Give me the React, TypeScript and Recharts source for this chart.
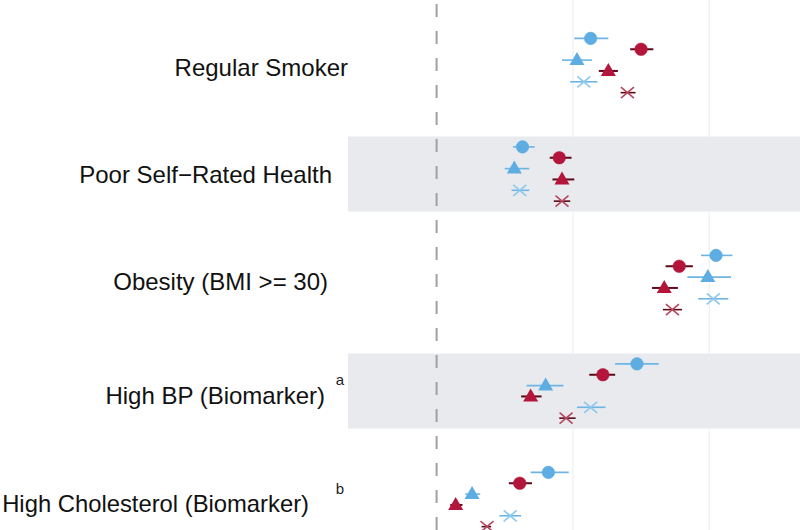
import React from "react";
import {
  ScatterChart,
  Scatter,
  XAxis,
  YAxis,
  ErrorBar,
  ReferenceArea,
  ReferenceLine,
} from "recharts";

// ---- data ----
const categories = [
  "Regular Smoker",
  "Poor Self\u2212Rated Health",
  "Obesity (BMI >= 30)",
  "High BP (Biomarker)",
  "High Cholesterol (Biomarker)",
];
const footnotes = ["", "", "", "a", "b"];

const blueCircle = [1.13, 0.63, 2.05, 1.47, 0.82];
const blueCircleLo = [1.01, 0.56, 1.94, 1.31, 0.69];
const blueCircleHi = [1.26, 0.72, 2.17, 1.63, 0.97];

const redCircle = [1.5, 0.9, 1.78, 1.22, 0.61];
const redCircleLo = [1.42, 0.83, 1.68, 1.12, 0.53];
const redCircleHi = [1.59, 0.99, 1.88, 1.31, 0.7];

const blueTri = [1.03, 0.57, 1.99, 0.8, 0.26];
const blueTriLo = [0.92, 0.5, 1.84, 0.66, 0.21];
const blueTriHi = [1.14, 0.68, 2.16, 0.93, 0.32];

const redTri = [1.26, 0.92, 1.67, 0.69, 0.14];
const redTriLo = [1.19, 0.85, 1.58, 0.62, 0.1];
const redTriHi = [1.33, 1.01, 1.77, 0.77, 0.19];

const blueX = [1.08, 0.61, 2.03, 1.13, 0.54];
const blueXLo = [0.98, 0.55, 1.92, 1.03, 0.46];
const blueXHi = [1.18, 0.68, 2.14, 1.24, 0.62];

const redX = [1.4, 0.92, 1.73, 0.95, 0.37];
const redXLo = [1.35, 0.86, 1.66, 0.9, 0.33];
const redXHi = [1.46, 0.98, 1.8, 1.02, 0.4];

const bandCategories = [2, 4];
const gridTicks = [1, 2];

// ---- layout / style ----
const BLUE = "#5DADE2";
const BLUE_BAR = "#6DB5E3";
const BLUE_X = "#8CC8EC";
const RED = "#B3163A";
const RED_BAR = "#5E0818";
const RED_X = "#B5475F";

const labelLayout = [
  { end: 348, dy: 10, size: 24 },
  { end: 332, dy: 9, size: 24 },
  { end: 328, dy: 7.5, size: 24 },
  { end: 325, dy: 12.5, size: 24 },
  { end: 309, dy: 12, size: 23.8 },
];

function build(vals: number[], lo: number[], hi: number[], offset: number) {
  return categories.map((c, i) => ({
    name: c,
    x: vals[i],
    y: i + 1 + offset,
    err: [vals[i] - lo[i], hi[i] - vals[i]],
  }));
}

const CircleShape = (color: string) => (p: any) => (
  <circle cx={p.cx} cy={p.cy} r={6.3} fill={color} stroke={color} strokeWidth={0.5} />
);
const TriShape = (color: string) => (p: any) => (
  <polygon
    points={`${p.cx},${p.cy - 8} ${p.cx - 7.5},${p.cy + 5} ${p.cx + 7.5},${p.cy + 5}`}
    fill={color}
  />
);
const XShape = (color: string) => (p: any) => (
  <g stroke={color} strokeWidth={1.6}>
    <line x1={p.cx - 6.5} y1={p.cy - 5.5} x2={p.cx + 6.5} y2={p.cy + 5.5} />
    <line x1={p.cx - 6.5} y1={p.cy + 5.5} x2={p.cx + 6.5} y2={p.cy - 5.5} />
  </g>
);

const LabelTick = (props: any) => {
  const { y, payload } = props;
  const i = Math.round(payload.value) - 1;
  if (i < 0 || i >= categories.length) return null;
  const l = labelLayout[i];
  return (
    <g>
      <text
        x={l.end}
        y={y + l.dy}
        textAnchor="end"
        fontSize={l.size}
        fill="#111"
        fontFamily="'Liberation Sans', Arial, sans-serif"
      >
        {categories[i]}
      </text>
      {footnotes[i] ? (
        <text
          x={340}
          y={y - 6}
          textAnchor="middle"
          fontSize={15}
          fill="#222"
          fontFamily="'Liberation Sans', Arial, sans-serif"
        >
          {footnotes[i]}
        </text>
      ) : null}
    </g>
  );
};

const series = [
  { data: build(blueCircle, blueCircleLo, blueCircleHi, -0.25), shape: CircleShape(BLUE), bar: BLUE_BAR, bw: 1.6 },
  { data: build(redCircle, redCircleLo, redCircleHi, -0.15), shape: CircleShape(RED), bar: RED_BAR, bw: 2 },
  { data: build(blueTri, blueTriLo, blueTriHi, -0.05), shape: TriShape(BLUE), bar: BLUE_BAR, bw: 1.6 },
  { data: build(redTri, redTriLo, redTriHi, 0.05), shape: TriShape(RED), bar: RED_BAR, bw: 2 },
  { data: build(blueX, blueXLo, blueXHi, 0.15), shape: XShape(BLUE_X), bar: BLUE_BAR, bw: 1.6 },
  { data: build(redX, redXLo, redXHi, 0.25), shape: XShape(RED_X), bar: RED_BAR, bw: 1.6 },
];

export default function App() {
  return (
    <div style={{ position: "absolute", left: 0, top: 0, width: 800, height: 530, background: "#fff" }}>
      <ScatterChart width={800} height={530} margin={{ top: 0, right: 0, bottom: 0, left: 0 }}>
        <XAxis type="number" dataKey="x" domain={[-0.65, 2.666]} hide allowDataOverflow />
        <YAxis
          type="number"
          dataKey="y"
          domain={[0.396, 5.281]}
          reversed
          allowDataOverflow
          width={348}
          ticks={[1, 2, 3, 4, 5]}
          tick={<LabelTick />}
          tickLine={false}
          axisLine={false}
          interval={0}
        />
        {bandCategories.map((c) => (
          <ReferenceArea key={c} y1={c - 0.345} y2={c + 0.345} fill="#E8EAED" fillOpacity={1} stroke="none" />
        ))}
        {gridTicks.map((t) => (
          <ReferenceLine key={t} x={t} stroke="#ECECEC" strokeWidth={1} />
        ))}
        <ReferenceLine x={0} stroke="#A0A0A0" strokeWidth={2} strokeDasharray="13 14" />
        {series.map((s, i) => (
          <Scatter key={i} data={s.data} shape={s.shape} isAnimationActive={false}>
            <ErrorBar dataKey="err" direction="x" width={0} stroke={s.bar} strokeWidth={s.bw} />
          </Scatter>
        ))}
      </ScatterChart>
    </div>
  );
}
